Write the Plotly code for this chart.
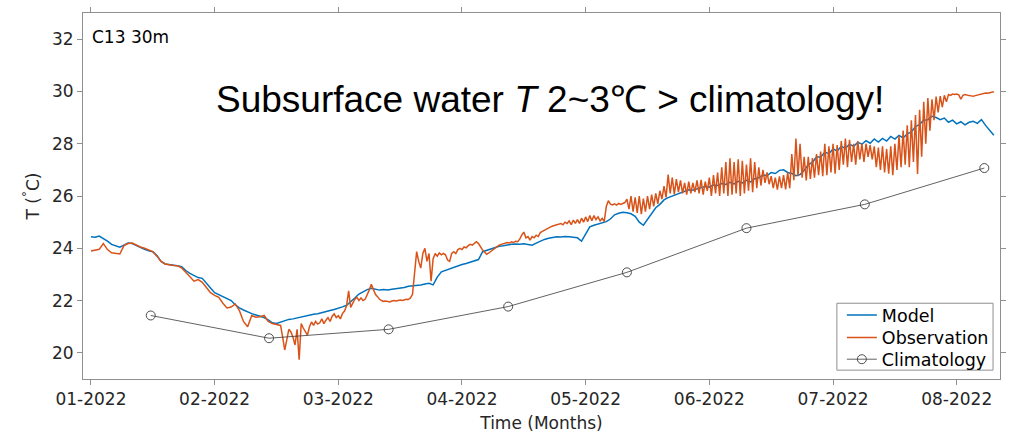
import plotly.graph_objects as go

# ---------------- data ----------------
tick_days = [0, 30, 60, 90, 120, 150, 180, 210]
tick_labels = ["01-2022", "02-2022", "03-2022", "04-2022",
               "05-2022", "06-2022", "07-2022", "08-2022"]

# Model: daily values from day 0
model_temp = [
    24.44, 24.42, 24.47, 24.38, 24.27, 24.15, 24.08, 24.04, 24.12, 24.20,   # 0-9
    24.18, 24.10, 24.04, 23.96, 23.90, 23.87, 23.72, 23.50, 23.40, 23.38,   # 10-19
    23.37, 23.33, 23.30, 23.15, 23.04, 22.95, 22.88, 22.85, 22.65, 22.48,   # 20-29
    22.30, 22.22, 22.14, 22.06, 22.00, 21.84, 21.72, 21.64, 21.56, 21.50,   # 30-39
    21.45, 21.40, 21.35, 21.26, 21.15, 21.12, 21.18, 21.22, 21.28, 21.30,   # 40-49
    21.34, 21.38, 21.42, 21.45, 21.48, 21.50, 21.55, 21.58, 21.62, 21.66,   # 50-59
    21.70, 21.76, 21.82, 21.95, 22.10, 22.25, 22.35, 22.42, 22.47, 22.44,   # 60-69
    22.40, 22.42, 22.40, 22.43, 22.45, 22.48, 22.50, 22.55, 22.56, 22.58,   # 70-79
    22.60, 22.63, 22.66, 22.60, 22.90, 23.10, 23.16, 23.22, 23.28, 23.32,   # 80-89
    23.38, 23.42, 23.46, 23.52, 23.57, 23.87, 23.92, 23.98, 24.04, 24.08,   # 90-99
    24.10, 24.13, 24.15, 24.16, 24.15, 24.17, 24.14, 24.12, 24.20, 24.28,   # 100-109
    24.34, 24.38, 24.42, 24.44, 24.43, 24.45, 24.44, 24.42, 24.40, 24.27,   # 110-119
    24.55, 24.82, 24.88, 24.92, 24.96, 25.02, 25.12, 25.28, 25.34, 25.38,   # 120-129
    25.36, 25.32, 25.22, 25.00, 24.88, 25.10, 25.35, 25.55, 25.68, 25.85,   # 130-139
    25.94, 26.00, 26.08, 26.14, 26.19, 26.24, 26.22, 26.28, 26.32, 26.36,   # 140-149
    26.34, 26.42, 26.40, 26.48, 26.44, 26.52, 26.46, 26.56, 26.50, 26.60,   # 150-159
    26.54, 26.66, 26.70, 26.80, 26.78, 26.90, 26.86, 26.98, 27.00, 26.90,   # 160-169
    26.86, 26.78, 26.82, 26.98, 27.20, 27.28, 27.50, 27.48, 27.68, 27.62,   # 170-179
    27.80, 27.72, 27.90, 27.82, 27.98, 27.90, 28.05, 27.98, 28.12, 28.02,   # 180-189
    28.18, 28.06, 28.20, 28.10, 28.28, 28.18, 28.32, 28.22, 28.38, 28.45,   # 190-199
    28.65, 28.74, 28.90, 28.92, 29.05, 29.00, 28.92, 28.98, 28.82, 28.90,   # 200-209
    28.76, 28.84, 28.72, 28.82, 28.86, 28.78, 28.92, 28.70, 28.52, 28.32,   # 210-219
]

# Observation: daily values for days 0-43
obs_temp_daily = [
    23.90, 23.92, 23.96, 24.18, 23.95, 23.83, 23.80, 23.78, 24.10, 24.18,   # 0-9
    24.20, 24.12, 24.05, 24.00, 23.92, 23.87, 23.70, 23.50, 23.40, 23.36,   # 10-19
    23.34, 23.33, 23.25, 23.08, 22.90, 22.74, 22.80, 22.70, 22.50, 22.30,   # 20-29
    22.20, 22.12, 21.90, 21.72, 21.75, 21.87, 21.62, 21.20, 21.00, 21.43,   # 30-39
    21.36, 21.38, 21.43, 21.20,                                             # 40-43
]
# Observation: half-daily values from day 44.0
obs_temp_half = [
    21.12, 21.10, 21.08, 21.05, 21.05, 20.60, 20.11, 20.50, 20.90, 20.80,   # 44-48
    20.60, 20.30, 20.90, 19.74, 21.12, 20.95, 20.80, 20.68, 21.00, 21.18,   # 49-53
    21.05, 21.20, 21.10, 21.15, 21.30, 21.12, 21.25, 21.35, 21.20, 21.40,   # 54-58
    21.49, 21.35, 21.42, 21.30, 21.50, 21.60, 21.80, 22.37, 21.74, 21.90,   # 59-63
    22.05, 22.12, 22.00, 22.10, 22.00, 22.05, 22.20, 22.40, 22.62, 22.40,   # 64-68
    22.24, 22.15, 22.05, 22.00, 21.97, 21.98, 21.97, 21.95, 21.98, 22.00,   # 69-73
    21.98, 22.00, 22.02, 22.00, 22.03, 22.05, 22.04, 22.10, 22.24, 23.20,   # 74-78
    23.87, 23.50, 23.24, 23.80, 24.00, 23.50, 23.80, 22.74, 23.60, 23.80,   # 79-83
    23.70, 23.82, 23.75, 23.80, 23.75, 23.55, 23.50, 23.80, 23.87, 23.80,   # 84-88
    23.95, 24.00, 23.95, 24.05, 24.02, 24.10, 24.15, 24.12, 24.20, 24.25,   # 89-93
    24.18, 24.05, 23.93, 23.85, 23.77, 23.82, 23.88, 23.93, 24.02, 24.08,   # 94-98
    24.12, 24.15, 24.18, 24.20, 24.22, 24.20, 24.25, 24.22, 24.27, 24.25,   # 99-103
    24.35, 24.50, 24.62, 24.40, 24.45, 24.31, 24.45, 24.40, 24.50, 24.45,   # 104-108
    24.60, 24.65, 24.70, 24.75, 24.78, 24.82, 24.85, 24.88, 24.90, 24.92,   # 109-113
    24.95, 24.90, 25.00, 24.95, 25.05, 24.90, 25.08, 24.95, 25.10, 24.95,   # 114-118
    25.15, 25.00, 25.20, 25.02, 25.25, 25.05, 25.25, 25.10, 25.20, 25.05,   # 119-123
    25.15, 25.02, 25.60, 25.82, 25.69, 25.66, 25.70, 25.65, 25.72, 25.68,   # 124-128
    25.70, 25.75, 25.88, 25.50, 26.00, 25.40, 25.95, 25.35, 26.00, 25.31,   # 129-133
    25.90, 25.40, 26.00, 25.50, 26.05, 25.60, 26.10, 25.70, 26.20, 25.88,   # 134-138
    26.38, 25.95, 26.82, 26.10, 26.70, 26.06, 26.65, 26.15, 26.60, 26.10,   # 139-143
    26.50, 26.05, 26.55, 26.10, 26.50, 26.15, 26.60, 26.10, 26.62, 26.05,   # 144-148
    26.55, 26.20, 26.70, 26.00, 26.80, 26.10, 26.90, 26.00, 27.10, 26.10,   # 149-153
    27.30, 26.00, 27.44, 26.05, 27.30, 26.10, 27.40, 26.00, 27.35, 26.10,   # 154-158
    27.20, 26.20, 27.44, 26.15, 27.30, 26.30, 27.10, 26.40, 27.00, 26.50,   # 159-163
    26.90, 26.45, 26.76, 26.30, 26.70, 26.24, 26.75, 26.30, 26.80, 26.25,   # 164-168
    26.90, 26.30, 27.60, 26.60, 28.20, 26.76, 28.00, 26.70, 27.50, 26.60,   # 169-173
    27.50, 26.65, 27.45, 26.70, 27.60, 26.80, 27.70, 26.76, 28.00, 26.80,   # 174-178
    27.90, 26.90, 28.00, 26.85, 27.95, 27.00, 28.10, 27.20, 28.20, 27.10,   # 179-183
    28.15, 27.30, 28.00, 27.20, 28.10, 27.40, 28.00, 27.30, 28.00, 27.50,   # 184-188
    27.95, 27.40, 27.90, 27.10, 27.85, 27.00, 27.90, 26.90, 27.80, 26.85,   # 189-193
    27.90, 26.80, 28.00, 27.00, 28.30, 27.10, 28.50, 27.20, 28.70, 27.10,   # 194-198
    28.90, 27.30, 29.10, 26.84, 29.30, 27.50, 29.60, 28.00, 29.75, 28.50,   # 199-203
    29.70, 28.90, 29.80, 29.20, 29.82, 29.40, 29.85, 29.60, 29.88, 29.85,   # 204-208
    29.90, 29.88, 29.90, 29.87, 29.70, 29.85, 29.88, 29.85, 29.84, 29.83,   # 209-213
    29.82, 29.84, 29.86, 29.88, 29.90, 29.92, 29.94, 29.93, 29.96, 29.97,   # 214-218
    29.99,                                                                  # 219
]

clim_days = [14.5, 43.2, 72.2, 101.2, 130.0, 159.0, 187.7, 216.7]
clim_temp = [21.43, 20.56, 20.90, 21.77, 23.08, 24.77, 25.68, 27.07]

# ---------------- build ----------------
model_days = list(range(len(model_temp)))
obs_days = list(range(len(obs_temp_daily))) + \
    [len(obs_temp_daily) + 0.5 * i for i in range(len(obs_temp_half))]
obs_temp = obs_temp_daily + obs_temp_half

FONT = "DejaVu Sans"
TXT = "#262626"
AX = "#8f8f8f"

# plot-area pixel geometry (for placing paper-referenced items)
L, R, T, B = 83, 1005, 7, 379
def px_x(px):
    return (px - L) / (R - L)
def px_y(py):
    return (B - py) / (B - T)

fig = go.Figure()
fig.add_trace(go.Scatter(x=model_days, y=model_temp, mode="lines", name="Model",
                         line=dict(color="#0072BD", width=1.5), legend="legend"))
fig.add_trace(go.Scatter(x=obs_days, y=obs_temp, mode="lines", name="Observation",
                         line=dict(color="#D95319", width=1.5), legend="legend2"))
fig.add_trace(go.Scatter(x=clim_days, y=clim_temp, mode="lines+markers", name="Climatology",
                         line=dict(color="#3a3a3a", width=0.8),
                         marker=dict(symbol="circle-open", size=9,
                                     line=dict(color="#3a3a3a", width=0.9)),
                         legend="legend3"))

axis_common = dict(showline=True, linecolor=AX, linewidth=1, mirror="ticks",
                   ticks="outside", ticklen=5, tickcolor=AX, tickwidth=1,
                   showgrid=False, zeroline=False,
                   tickfont=dict(family=FONT, size=17, color=TXT))

leg_common = dict(xanchor="left", yanchor="middle", bgcolor="rgba(0,0,0,0)",
                  borderwidth=0, font=dict(family=FONT, size=17.5, color="#000000"),
                  itemwidth=30)

fig.update_layout(
    width=1013, height=441,
    margin=dict(l=L, r=1013 - R, t=T, b=441 - B),
    paper_bgcolor="white", plot_bgcolor="white",
    font=dict(family=FONT, size=17, color=TXT),
    xaxis=dict(range=[-1.93, 220.5], tickmode="array", tickvals=tick_days,
               ticktext=tick_labels,
               title=dict(text="Time (Months)", font=dict(family=FONT, size=17, color=TXT),
                          standoff=8),
               **axis_common),
    yaxis=dict(range=[19, 33], tickmode="array", tickvals=[20, 22, 24, 26, 28, 30, 32],
               title=dict(text="T (<sup>°</sup>C)", font=dict(family=FONT, size=17, color=TXT),
                          standoff=8),
               **axis_common),
    legend=dict(x=px_x(846), y=px_y(314), **leg_common),
    legend2=dict(x=px_x(846), y=px_y(337), **leg_common),
    legend3=dict(x=px_x(846), y=px_y(359), **leg_common),
    showlegend=True,
    shapes=[
        dict(type="rect", xref="paper", yref="paper",
             x0=px_x(841), x1=px_x(998), y0=px_y(370), y1=px_y(302),
             line=dict(color=AX, width=1), fillcolor="white", layer="above"),
    ],
    annotations=[
        dict(text="C13 30m", xref="paper", yref="paper", x=px_x(90), y=px_y(31),
             xanchor="left", yanchor="middle", showarrow=False,
             font=dict(family=FONT, size=17, color="#000000")),
        dict(text="Subsurface water <i>T</i> 2~3℃ > climatology!", xref="paper", yref="paper",
             x=px_x(553), y=px_y(95), xanchor="center", yanchor="middle",
             showarrow=False,
             font=dict(family="Liberation Sans", size=37, color="#000000")),
    ],
)

fig.write_html("out.html")
